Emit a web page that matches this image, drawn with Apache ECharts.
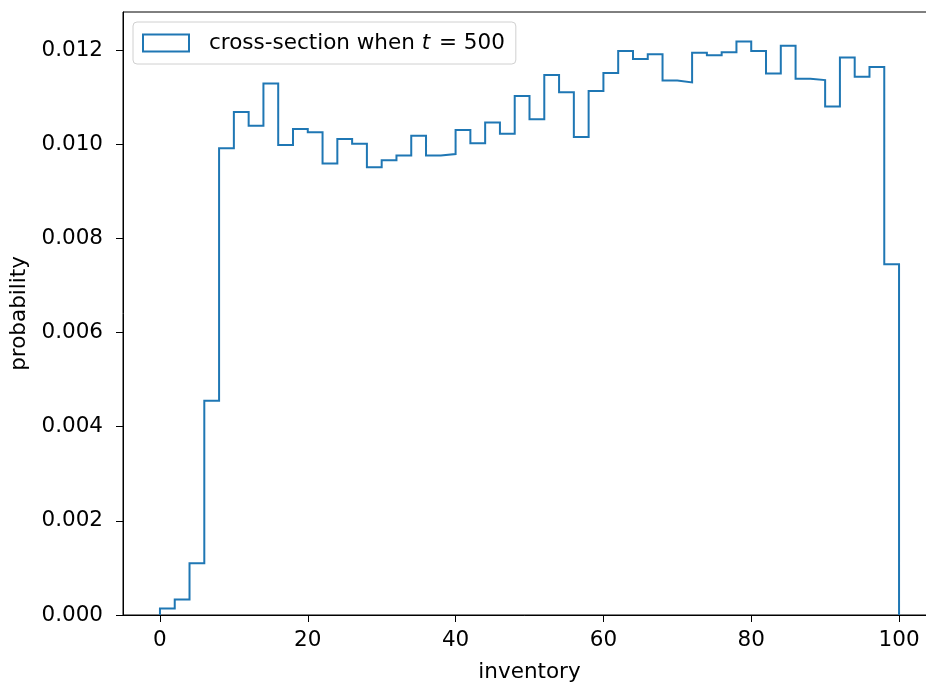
<!DOCTYPE html>
<html>
<head>
<meta charset="utf-8">
<title>cross-section histogram</title>
<script src="https://cdn.jsdelivr.net/npm/echarts@6/dist/echarts.min.js"></script>
<style>
  html, body { margin: 0; padding: 0; background: #fff; }
  #chart { width: 926px; height: 685px; }
</style>
</head>
<body>
<div id="chart"></div>
<script>
// Histogram bin edges (inventory) and the density of each bin
const binEdges = [0, 2, 4, 6, 8, 10, 12, 14, 16, 18, 20, 22, 24, 26, 28, 30, 32, 34, 36, 38, 40,
  42, 44, 46, 48, 50, 52, 54, 56, 58, 60, 62, 64, 66, 68, 70, 72, 74, 76, 78, 80,
  82, 84, 86, 88, 90, 92, 94, 96, 98, 100];
const densities = [
  0.00014, 0.00033, 0.00110, 0.00455, 0.00991, 0.01068, 0.01039, 0.01129, 0.00998, 0.01032,
  0.01025, 0.00959, 0.01011, 0.01001, 0.00951, 0.00966, 0.00976, 0.01018, 0.00976, 0.00979,
  0.01030, 0.01002, 0.01046, 0.01022, 0.01102, 0.01053, 0.01147, 0.01110, 0.01015, 0.01113,
  0.01151, 0.01198, 0.01181, 0.01191, 0.01135, 0.01131, 0.01194, 0.01189, 0.01195, 0.01218,
  0.01198, 0.01150, 0.01209, 0.01139, 0.01136, 0.01080, 0.01184, 0.01143, 0.01164, 0.00745
];
const xTicks = [0, 20, 40, 60, 80, 100];
const yTicks = [0, 0.002, 0.004, 0.006, 0.008, 0.010, 0.012];
const seriesName = 'cross-section when t = 500';

// Outline of a step histogram: up the left edge, across each bin top, down the right edge
const outline = [[binEdges[0], 0]];
densities.forEach((d, i) => {
  outline.push([binEdges[i], d]);
  outline.push([binEdges[i + 1], d]);
});
outline.push([binEdges[binEdges.length - 1], 0]);

const FONT = 'DejaVu Sans';
const FS = 21.5;
const BLUE = '#1f77b4';

const chart = echarts.init(document.getElementById('chart'), null, { renderer: 'canvas' });
chart.setOption({
  animation: false,
  backgroundColor: '#fff',
  textStyle: { fontFamily: FONT },
  grid: {
    left: 123, top: 12, width: 813, height: 603,
    outerBoundsMode: 'none',
    containLabel: false,
    show: true, borderColor: '#000', borderWidth: 1, backgroundColor: 'transparent'
  },
  legend: {
    left: 133, top: 22,
    orient: 'horizontal',
    padding: [10, 11, 10, 9],
    backgroundColor: 'rgba(255,255,255,0.8)',
    borderColor: '#d0d0d0', borderWidth: 1, borderRadius: 4,
    itemWidth: 46, itemHeight: 17,
    data: [{
      name: seriesName,
      icon: 'rect',
      itemStyle: { color: 'rgba(0,0,0,0)', borderColor: BLUE, borderWidth: 2 }
    }],
    formatter: () => '{sp|}{a|cross-section when }{b|t}{a| = 500}',
    textStyle: {
      fontFamily: FONT, fontSize: FS, color: '#000',
      rich: {
        sp: { width: 15 },
        a: { fontFamily: FONT, fontSize: FS, color: '#000' },
        b: { fontFamily: FONT, fontSize: FS, color: '#000', fontStyle: 'italic', padding: [0, 2, 0, 0] }
      }
    }
  },
  xAxis: {
    type: 'value',
    min: -5, max: 105,
    name: 'inventory',
    nameLocation: 'middle',
    nameGap: 46,
    nameTextStyle: { fontFamily: FONT, fontSize: FS, color: '#000' },
    axisLine: { show: true, onZero: false, lineStyle: { color: '#000', width: 1 } },
    axisTick: { show: true, length: 7, customValues: xTicks, lineStyle: { color: '#000', width: 1 } },
    axisLabel: {
      customValues: xTicks, margin: 14,
      fontFamily: FONT, fontSize: FS, color: '#000',
      formatter: v => String(v)
    },
    splitLine: { show: false }
  },
  yAxis: {
    type: 'value',
    min: 0, max: 0.012806,
    name: 'probability',
    nameLocation: 'middle',
    nameGap: 90,
    nameRotate: 90,
    nameTextStyle: { fontFamily: FONT, fontSize: FS, color: '#000' },
    axisLine: { show: true, onZero: false, lineStyle: { color: '#000', width: 1 } },
    axisTick: { show: true, length: 7, customValues: yTicks, lineStyle: { color: '#000', width: 1 } },
    axisLabel: {
      customValues: yTicks, margin: 20,
      fontFamily: FONT, fontSize: FS, color: '#000',
      formatter: v => v.toFixed(3)
    },
    splitLine: { show: false }
  },
  series: [{
    name: seriesName,
    type: 'line',
    data: outline,
    symbol: 'none',
    clip: true,
    lineStyle: { color: BLUE, width: 2, join: 'miter', cap: 'butt' },
    itemStyle: { color: BLUE }
  }]
});
</script>
</body>
</html>
